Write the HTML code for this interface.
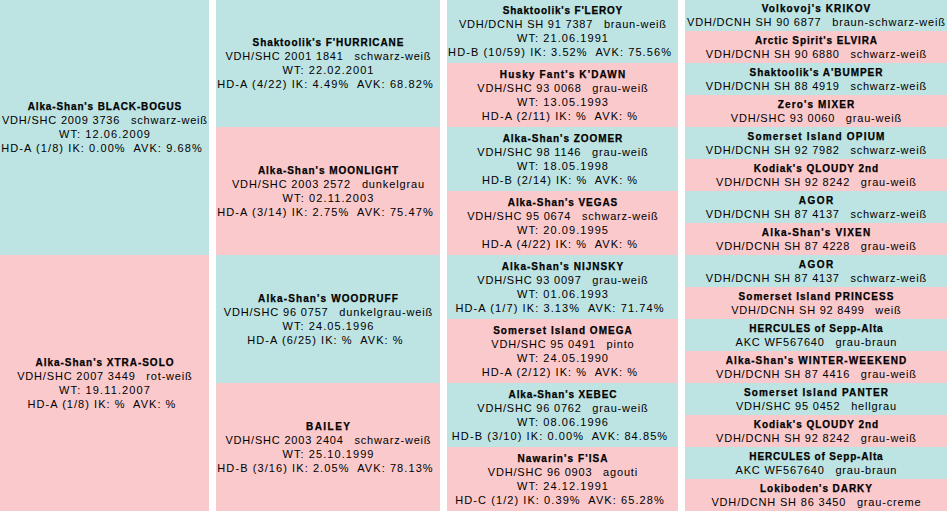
<!DOCTYPE html>
<html><head><meta charset="utf-8"><style>
html,body{margin:0;padding:0;background:#fff;width:948px;height:512px;overflow:hidden;position:relative}
.d{word-spacing:0px}
.c{position:absolute;display:flex;align-items:center;justify-content:center;text-align:center;
font-family:"Liberation Sans",sans-serif;font-size:11px;line-height:14px;color:#000;white-space:nowrap}
.q{background:#bde3e3}
.p{background:#fac9cb}
.i{position:relative;top:0px;width:100%}
.t{font-weight:bold;font-size:10px;position:relative;top:1px;-webkit-text-stroke:0.25px #000}
</style></head><body>
<div class="c q" style="left:0px;top:-1px;width:209px;height:256px"><div class="i"><div class="t" style="letter-spacing:0.858px;text-indent:0.858px">Alka-Shan's BLACK-BOGUS</div><div class="d" style="letter-spacing:0.810px;text-indent:0.810px">VDH/SHC 2009 3736&nbsp;<i style="display:inline-block;width:3px"></i> schwarz-weiß</div><div class="d" style="letter-spacing:1.072px;text-indent:1.072px">WT: 12.06.2009</div><div class="d" style="padding-right:6px;letter-spacing:1.087px;text-indent:1.087px">HD-A (1/8) IK: 0.00%&nbsp; AVK: 9.68%</div></div></div>
<div class="c p" style="left:0px;top:255px;width:209px;height:256px"><div class="i"><div class="t" style="letter-spacing:0.974px;text-indent:0.974px">Alka-Shan's XTRA-SOLO</div><div class="d" style="letter-spacing:0.814px;text-indent:0.814px">VDH/SHC 2007 3449&nbsp;<i style="display:inline-block;width:3px"></i> rot-weiß</div><div class="d" style="letter-spacing:1.136px;text-indent:1.136px">WT: 19.11.2007</div><div class="d" style="padding-right:6px;letter-spacing:1.038px;text-indent:1.038px">HD-A (1/8) IK: %&nbsp; AVK: %</div></div></div>
<div class="c q" style="left:216px;top:-1px;width:224px;height:128px"><div class="i"><div class="t" style="letter-spacing:0.918px;text-indent:0.918px">Shaktoolik's F'HURRICANE</div><div class="d" style="letter-spacing:0.810px;text-indent:0.810px">VDH/SHC 2001 1841&nbsp;<i style="display:inline-block;width:3px"></i> schwarz-weiß</div><div class="d" style="letter-spacing:1.072px;text-indent:1.072px">WT: 22.02.2001</div><div class="d" style="padding-right:6px;letter-spacing:1.107px;text-indent:1.107px">HD-A (4/22) IK: 4.49%&nbsp; AVK: 68.82%</div></div></div>
<div class="c p" style="left:216px;top:127px;width:224px;height:128px"><div class="i"><div class="t" style="letter-spacing:0.973px;text-indent:0.973px">Alka-Shan's MOONLIGHT</div><div class="d" style="letter-spacing:0.858px;text-indent:0.858px">VDH/SHC 2003 2572&nbsp;<i style="display:inline-block;width:3px"></i> dunkelgrau</div><div class="d" style="letter-spacing:1.136px;text-indent:1.136px">WT: 02.11.2003</div><div class="d" style="padding-right:6px;letter-spacing:1.107px;text-indent:1.107px">HD-A (3/14) IK: 2.75%&nbsp; AVK: 75.47%</div></div></div>
<div class="c q" style="left:216px;top:255px;width:224px;height:128px"><div class="i"><div class="t" style="letter-spacing:1.121px;text-indent:1.121px">Alka-Shan's WOODRUFF</div><div class="d" style="letter-spacing:0.830px;text-indent:0.830px">VDH/SHC 96 0757&nbsp;<i style="display:inline-block;width:3px"></i> dunkelgrau-weiß</div><div class="d" style="letter-spacing:1.072px;text-indent:1.072px">WT: 24.05.1996</div><div class="d" style="padding-right:6px;letter-spacing:1.053px;text-indent:1.053px">HD-A (6/25) IK: %&nbsp; AVK: %</div></div></div>
<div class="c p" style="left:216px;top:383px;width:224px;height:128px"><div class="i"><div class="t" style="letter-spacing:1.466px;text-indent:1.466px">BAILEY</div><div class="d" style="letter-spacing:0.810px;text-indent:0.810px">VDH/SHC 2003 2404&nbsp;<i style="display:inline-block;width:3px"></i> schwarz-weiß</div><div class="d" style="letter-spacing:1.072px;text-indent:1.072px">WT: 25.10.1999</div><div class="d" style="padding-right:6px;letter-spacing:1.084px;text-indent:1.084px">HD-B (3/16) IK: 2.05%&nbsp; AVK: 78.13%</div></div></div>
<div class="c q" style="left:447px;top:-1px;width:231px;height:64px"><div class="i"><div class="t" style="letter-spacing:0.804px;text-indent:0.804px">Shaktoolik's F'LEROY</div><div class="d" style="letter-spacing:0.793px;text-indent:0.793px">VDH/DCNH SH 91 7387&nbsp;<i style="display:inline-block;width:3px"></i> braun-weiß</div><div class="d" style="letter-spacing:1.072px;text-indent:1.072px">WT: 21.06.1991</div><div class="d" style="padding-right:6px;letter-spacing:1.094px;text-indent:1.094px">HD-B (10/59) IK: 3.52%&nbsp; AVK: 75.56%</div></div></div>
<div class="c p" style="left:447px;top:63px;width:231px;height:64px"><div class="i"><div class="t" style="letter-spacing:1.140px;text-indent:1.140px">Husky Fant's K'DAWN</div><div class="d" style="letter-spacing:0.798px;text-indent:0.798px">VDH/SHC 93 0068&nbsp;<i style="display:inline-block;width:3px"></i> grau-weiß</div><div class="d" style="letter-spacing:1.072px;text-indent:1.072px">WT: 13.05.1993</div><div class="d" style="padding-right:6px;letter-spacing:1.087px;text-indent:1.087px">HD-A (2/11) IK: %&nbsp; AVK: %</div></div></div>
<div class="c q" style="left:447px;top:127px;width:231px;height:64px"><div class="i"><div class="t" style="letter-spacing:0.946px;text-indent:0.946px">Alka-Shan's ZOOMER</div><div class="d" style="letter-spacing:0.831px;text-indent:0.831px">VDH/SHC 98 1146&nbsp;<i style="display:inline-block;width:3px"></i> grau-weiß</div><div class="d" style="letter-spacing:1.072px;text-indent:1.072px">WT: 18.05.1998</div><div class="d" style="padding-right:6px;letter-spacing:1.022px;text-indent:1.022px">HD-B (2/14) IK: %&nbsp; AVK: %</div></div></div>
<div class="c p" style="left:447px;top:191px;width:231px;height:64px"><div class="i"><div class="t" style="letter-spacing:0.929px;text-indent:0.929px">Alka-Shan's VEGAS</div><div class="d" style="letter-spacing:0.785px;text-indent:0.785px">VDH/SHC 95 0674&nbsp;<i style="display:inline-block;width:3px"></i> schwarz-weiß</div><div class="d" style="letter-spacing:1.072px;text-indent:1.072px">WT: 20.09.1995</div><div class="d" style="padding-right:6px;letter-spacing:1.053px;text-indent:1.053px">HD-A (4/22) IK: %&nbsp; AVK: %</div></div></div>
<div class="c q" style="left:447px;top:255px;width:231px;height:64px"><div class="i"><div class="t" style="letter-spacing:1.030px;text-indent:1.030px">Alka-Shan's NIJNSKY</div><div class="d" style="letter-spacing:0.798px;text-indent:0.798px">VDH/SHC 93 0097&nbsp;<i style="display:inline-block;width:3px"></i> grau-weiß</div><div class="d" style="letter-spacing:1.072px;text-indent:1.072px">WT: 01.06.1993</div><div class="d" style="padding-right:6px;letter-spacing:1.097px;text-indent:1.097px">HD-A (1/7) IK: 3.13%&nbsp; AVK: 71.74%</div></div></div>
<div class="c p" style="left:447px;top:319px;width:231px;height:64px"><div class="i"><div class="t" style="letter-spacing:1.044px;text-indent:1.044px">Somerset Island OMEGA</div><div class="d" style="letter-spacing:0.812px;text-indent:0.812px">VDH/SHC 95 0491&nbsp;<i style="display:inline-block;width:3px"></i> pinto</div><div class="d" style="letter-spacing:1.072px;text-indent:1.072px">WT: 24.05.1990</div><div class="d" style="padding-right:6px;letter-spacing:1.053px;text-indent:1.053px">HD-A (2/12) IK: %&nbsp; AVK: %</div></div></div>
<div class="c q" style="left:447px;top:383px;width:231px;height:64px"><div class="i"><div class="t" style="letter-spacing:0.864px;text-indent:0.864px">Alka-Shan's XEBEC</div><div class="d" style="letter-spacing:0.798px;text-indent:0.798px">VDH/SHC 96 0762&nbsp;<i style="display:inline-block;width:3px"></i> grau-weiß</div><div class="d" style="letter-spacing:1.072px;text-indent:1.072px">WT: 08.06.1996</div><div class="d" style="padding-right:6px;letter-spacing:1.084px;text-indent:1.084px">HD-B (3/10) IK: 0.00%&nbsp; AVK: 84.85%</div></div></div>
<div class="c p" style="left:447px;top:447px;width:231px;height:64px"><div class="i"><div class="t" style="letter-spacing:1.101px;text-indent:1.101px">Nawarin's F'ISA</div><div class="d" style="letter-spacing:0.815px;text-indent:0.815px">VDH/SHC 96 0903&nbsp;<i style="display:inline-block;width:3px"></i> agouti</div><div class="d" style="letter-spacing:1.072px;text-indent:1.072px">WT: 24.12.1991</div><div class="d" style="padding-right:6px;letter-spacing:1.073px;text-indent:1.073px">HD-C (1/2) IK: 0.39%&nbsp; AVK: 65.28%</div></div></div>
<div class="c q" style="left:685px;top:-1px;width:262px;height:32px"><div class="i"><div class="t" style="letter-spacing:1.122px;text-indent:1.122px">Volkovoj's KRIKOV</div><div class="d" style="letter-spacing:0.803px;text-indent:0.803px">VDH/DCNH SH 90 6877&nbsp;<i style="display:inline-block;width:3px"></i> braun-schwarz-weiß</div></div></div>
<div class="c p" style="left:685px;top:31px;width:262px;height:32px"><div class="i"><div class="t" style="letter-spacing:0.899px;text-indent:0.899px">Arctic Spirit's ELVIRA</div><div class="d" style="letter-spacing:0.772px;text-indent:0.772px">VDH/DCNH SH 90 6880&nbsp;<i style="display:inline-block;width:3px"></i> schwarz-weiß</div></div></div>
<div class="c q" style="left:685px;top:63px;width:262px;height:32px"><div class="i"><div class="t" style="letter-spacing:0.947px;text-indent:0.947px">Shaktoolik's A'BUMPER</div><div class="d" style="letter-spacing:0.772px;text-indent:0.772px">VDH/DCNH SH 88 4919&nbsp;<i style="display:inline-block;width:3px"></i> schwarz-weiß</div></div></div>
<div class="c p" style="left:685px;top:95px;width:262px;height:32px"><div class="i"><div class="t" style="letter-spacing:1.122px;text-indent:1.122px">Zero's MIXER</div><div class="d" style="letter-spacing:0.798px;text-indent:0.798px">VDH/SHC 93 0060&nbsp;<i style="display:inline-block;width:3px"></i> grau-weiß</div></div></div>
<div class="c q" style="left:685px;top:127px;width:262px;height:32px"><div class="i"><div class="t" style="letter-spacing:1.204px;text-indent:1.204px">Somerset Island OPIUM</div><div class="d" style="letter-spacing:0.772px;text-indent:0.772px">VDH/DCNH SH 92 7982&nbsp;<i style="display:inline-block;width:3px"></i> schwarz-weiß</div></div></div>
<div class="c p" style="left:685px;top:159px;width:262px;height:32px"><div class="i"><div class="t" style="letter-spacing:0.955px;text-indent:0.955px">Kodiak's QLOUDY 2nd</div><div class="d" style="letter-spacing:0.782px;text-indent:0.782px">VDH/DCNH SH 92 8242&nbsp;<i style="display:inline-block;width:3px"></i> grau-weiß</div></div></div>
<div class="c q" style="left:685px;top:191px;width:262px;height:32px"><div class="i"><div class="t" style="letter-spacing:1.433px;text-indent:1.433px">AGOR</div><div class="d" style="letter-spacing:0.772px;text-indent:0.772px">VDH/DCNH SH 87 4137&nbsp;<i style="display:inline-block;width:3px"></i> schwarz-weiß</div></div></div>
<div class="c p" style="left:685px;top:223px;width:262px;height:32px"><div class="i"><div class="t" style="letter-spacing:1.166px;text-indent:1.166px">Alka-Shan's VIXEN</div><div class="d" style="letter-spacing:0.782px;text-indent:0.782px">VDH/DCNH SH 87 4228&nbsp;<i style="display:inline-block;width:3px"></i> grau-weiß</div></div></div>
<div class="c q" style="left:685px;top:255px;width:262px;height:32px"><div class="i"><div class="t" style="letter-spacing:1.433px;text-indent:1.433px">AGOR</div><div class="d" style="letter-spacing:0.772px;text-indent:0.772px">VDH/DCNH SH 87 4137&nbsp;<i style="display:inline-block;width:3px"></i> schwarz-weiß</div></div></div>
<div class="c p" style="left:685px;top:287px;width:262px;height:32px"><div class="i"><div class="t" style="letter-spacing:1.032px;text-indent:1.032px">Somerset Island PRINCESS</div><div class="d" style="letter-spacing:0.750px;text-indent:0.750px">VDH/DCNH SH 92 8499&nbsp;<i style="display:inline-block;width:3px"></i> weiß</div></div></div>
<div class="c q" style="left:685px;top:319px;width:262px;height:32px"><div class="i"><div class="t" style="letter-spacing:0.831px;text-indent:0.831px">HERCULES of Sepp-Alta</div><div class="d" style="letter-spacing:0.808px;text-indent:0.808px">AKC WF567640&nbsp;<i style="display:inline-block;width:3px"></i> grau-braun</div></div></div>
<div class="c p" style="left:685px;top:351px;width:262px;height:32px"><div class="i"><div class="t" style="letter-spacing:1.079px;text-indent:1.079px">Alka-Shan's WINTER-WEEKEND</div><div class="d" style="letter-spacing:0.782px;text-indent:0.782px">VDH/DCNH SH 87 4416&nbsp;<i style="display:inline-block;width:3px"></i> grau-weiß</div></div></div>
<div class="c q" style="left:685px;top:383px;width:262px;height:32px"><div class="i"><div class="t" style="letter-spacing:1.124px;text-indent:1.124px">Somerset Island PANTER</div><div class="d" style="letter-spacing:0.811px;text-indent:0.811px">VDH/SHC 95 0452&nbsp;<i style="display:inline-block;width:3px"></i> hellgrau</div></div></div>
<div class="c p" style="left:685px;top:415px;width:262px;height:32px"><div class="i"><div class="t" style="letter-spacing:0.955px;text-indent:0.955px">Kodiak's QLOUDY 2nd</div><div class="d" style="letter-spacing:0.782px;text-indent:0.782px">VDH/DCNH SH 92 8242&nbsp;<i style="display:inline-block;width:3px"></i> grau-weiß</div></div></div>
<div class="c q" style="left:685px;top:447px;width:262px;height:32px"><div class="i"><div class="t" style="letter-spacing:0.831px;text-indent:0.831px">HERCULES of Sepp-Alta</div><div class="d" style="letter-spacing:0.808px;text-indent:0.808px">AKC WF567640&nbsp;<i style="display:inline-block;width:3px"></i> grau-braun</div></div></div>
<div class="c p" style="left:685px;top:479px;width:262px;height:32px"><div class="i"><div class="t" style="letter-spacing:0.942px;text-indent:0.942px">Lokiboden's DARKY</div><div class="d" style="letter-spacing:0.817px;text-indent:0.817px">VDH/DCNH SH 86 3450&nbsp;<i style="display:inline-block;width:3px"></i> grau-creme</div></div></div>
</body></html>
